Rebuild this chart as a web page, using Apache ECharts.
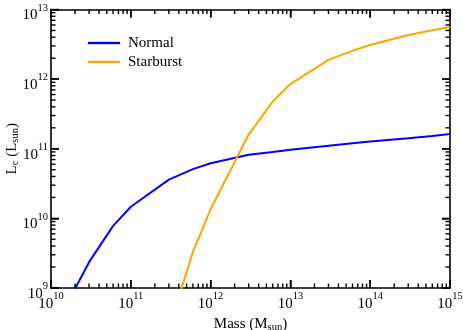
<!DOCTYPE html>
<html>
<head>
<meta charset="utf-8">
<script src="https://cdn.jsdelivr.net/npm/echarts@6/dist/echarts.min.js"></script>
<style>
  html, body { margin: 0; padding: 0; background: #fff; }
  #main { width: 463px; height: 330px; }
</style>
</head>
<body>
<div id="main"></div>
<script>
// halo mass (M_sun)
const mass = [2e10, 3e10, 6e10, 1e11, 3e11, 6e11, 1e12, 3e12, 6e12, 1e13, 3e13, 6e13, 1e14, 3e14, 6e14, 1e15];
// critical luminosity (L_sun)
const normal = [0.98e9, 2.35e9, 7.8e9, 1.47e10, 3.6e10, 5.1e10, 6.2e10, 8.2e10, 9.0e10, 9.7e10, 1.1e11, 1.2e11, 1.27e11, 1.42e11, 1.53e11, 1.63e11];
const starburst = [2.6e8, 2.6e8, 2.6e8, 2.6e8, 2.6e8, 3.3e9, 1.35e10, 1.6e11, 4.75e11, 8.5e11, 1.89e12, 2.55e12, 3.1e12, 4.3e12, 5.05e12, 5.6e12];
const xTickExp = [10, 11, 12, 13, 14, 15];
const yTickExp = [9, 10, 11, 12, 13];

const FONT = 'Liberation Serif';
const G = { left: 51, right: 13, top: 9.5, bottom: 42 };

const pairs = (ys) => mass.map((m, i) => [m, ys[i]]);
const powLabel = (v) => '{b|10}{s|' + Math.round(Math.log10(v)) + '}';
const labelRich = {
  b: { fontFamily: FONT, fontSize: 15, color: '#000', lineHeight: 26 },
  s: { fontFamily: FONT, fontSize: 10.5, color: '#000', lineHeight: 10, verticalAlign: 'top' }
};
const nameStyle = () => ({
  fontFamily: FONT, fontSize: 15, color: '#000',
  rich: { sub: { fontFamily: FONT, fontSize: 10.5, color: '#000', verticalAlign: 'bottom', padding: [6, 0, 0, 0] } }
});

const axisBase = () => ({
  type: 'log',
  splitLine: { show: false },
  axisLine: { show: true, lineStyle: { color: '#000', width: 1.6 } },
  axisTick: { show: true, inside: true, length: 8, lineStyle: { color: '#000', width: 1.5 } }
});

const xRange = { min: Math.pow(10, xTickExp[0]), max: Math.pow(10, xTickExp[xTickExp.length - 1]) };
const yRange = { min: Math.pow(10, yTickExp[0]), max: Math.pow(10, yTickExp[yTickExp.length - 1]) };

const myChart = echarts.init(document.getElementById('main'));
try {
  myChart.setOption({
    animation: false,
    grid: { left: G.left, right: G.right, top: G.top, bottom: G.bottom, outerBoundsMode: 'none' },
    legend: {
      orient: 'vertical',
      left: 83,
      top: 30.5,
      icon: 'rect',
      itemWidth: 32,
      itemHeight: 2.4,
      itemGap: 4,
      textStyle: { fontFamily: FONT, fontSize: 15, color: '#000', padding: [0, 0, 0, 3] },
      data: ['Normal', 'Starburst']
    },
    xAxis: [
      Object.assign(axisBase(), xRange, {
        position: 'bottom',
        axisLabel: { formatter: powLabel, rich: labelRich, margin: 3 },
        name: 'Mass (M{sub|sun})',
        nameLocation: 'middle',
        nameGap: 22,
        nameTextStyle: nameStyle()
      }),
      Object.assign(axisBase(), xRange, { position: 'top', axisLabel: { show: false } })
    ],
    yAxis: [
      Object.assign(axisBase(), yRange, {
        position: 'left',
        axisLabel: { formatter: powLabel, rich: labelRich, margin: 3, padding: [12, 0, 0, 0] },
        name: 'L{sub|c} (L{sub|sun})',
        nameLocation: 'middle',
        nameGap: 30,
        nameRotate: 90,
        nameMoveOverlap: false,
        nameTextStyle: nameStyle()
      }),
      Object.assign(axisBase(), yRange, { position: 'right', axisLabel: { show: false } })
    ],
    series: [
      {
        name: 'Normal',
        type: 'line',
        symbol: 'none',
        color: '#0000ff',
        lineStyle: { width: 2, color: '#0000ff' },
        data: pairs(normal)
      },
      {
        name: 'Starburst',
        type: 'line',
        symbol: 'none',
        color: '#ffa500',
        lineStyle: { width: 2, color: '#ffa500' },
        data: pairs(starburst)
      }
    ]
  });
} catch (e) { console.error(e); }

// ticks on all four sides: majors at each decade, minors at 2..9
const x0 = G.left, x1 = 463 - G.right, y0 = G.top, y1 = 330 - G.bottom;
const majorLen = 8, minorLen = 4.5;
const graphics = [];
const tickLine = (a, b, c, d) => graphics.push({
  type: 'line', silent: true, z: 100,
  shape: { x1: a, y1: b, x2: c, y2: d },
  style: { stroke: '#000', lineWidth: 1.4 }
});
try {
  xTickExp.forEach((e, i) => {
    const last = i === xTickExp.length - 1;
    for (let k = 1; k <= (last ? 1 : 9); k++) {
      const len = k === 1 ? majorLen : minorLen;
      const px = myChart.convertToPixel({ xAxisIndex: 0 }, k * Math.pow(10, e));
      tickLine(px, y1, px, y1 - len);
      tickLine(px, y0, px, y0 + len);
    }
  });
  yTickExp.forEach((e, i) => {
    const last = i === yTickExp.length - 1;
    for (let k = 1; k <= (last ? 1 : 9); k++) {
      const len = k === 1 ? majorLen : minorLen;
      const py = myChart.convertToPixel({ yAxisIndex: 0 }, k * Math.pow(10, e));
      tickLine(x0, py, x0 + len, py);
      tickLine(x1, py, x1 - len, py);
    }
  });
  myChart.setOption({ graphic: graphics });
} catch (e) { console.error(e); }
</script>
</body>
</html>
